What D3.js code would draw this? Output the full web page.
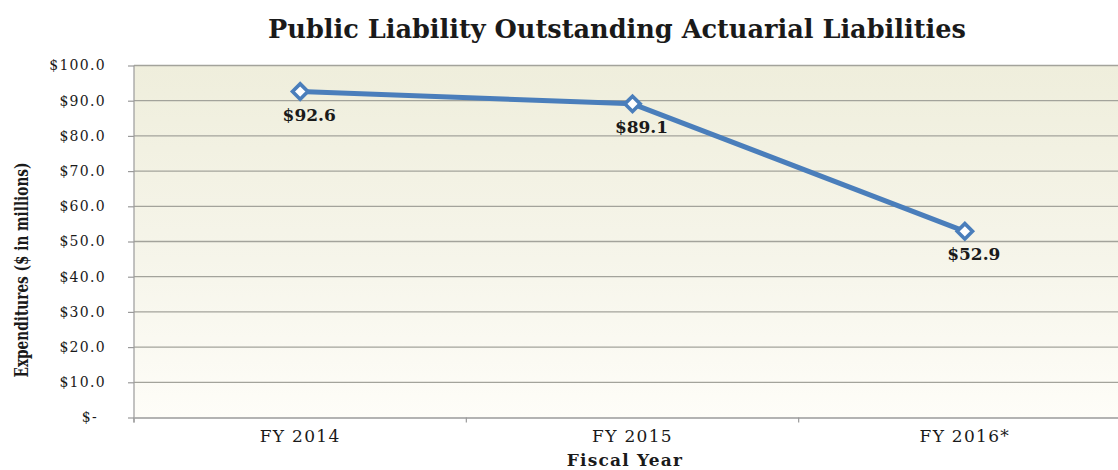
<!DOCTYPE html>
<html>
<head>
<meta charset="utf-8">
<script src="https://cdn.jsdelivr.net/npm/d3@7"></script>
<style>
  html, body { margin: 0; padding: 0; background: #ffffff; }
  svg { display: block; }
  text { font-family: "DejaVu Serif", "Liberation Serif", serif; fill: #1a1a1a; }
</style>
</head>
<body>
<svg id="chart" width="1118" height="470"></svg>
<script>
// Fiscal years and outstanding actuarial liabilities ($ millions)
const years = ["FY 2014", "FY 2015", "FY 2016*"];
const liabilities = [92.6, 89.1, 52.9];
const yTicks = [0, 10, 20, 30, 40, 50, 60, 70, 80, 90, 100];

const svg = d3.select("#chart");
const plot = { left: 134, top: 65.5, right: 1131, bottom: 417.5 };

const x = d3.scaleBand().domain(years).range([plot.left, plot.right]);
const y = d3.scaleLinear().domain([0, 100]).range([plot.bottom, plot.top]);

// Plot-area gradient fill
const defs = svg.append("defs");
const grad = defs.append("linearGradient").attr("id", "bg")
  .attr("x1", 0).attr("y1", 0).attr("x2", 0).attr("y2", 1);
grad.append("stop").attr("offset", "0%").attr("stop-color", "#efeedc");
grad.append("stop").attr("offset", "55%").attr("stop-color", "#f6f5ea");
grad.append("stop").attr("offset", "100%").attr("stop-color", "#fefdf8");

svg.append("rect")
  .attr("x", plot.left).attr("y", plot.top)
  .attr("width", plot.right - plot.left).attr("height", plot.bottom - plot.top)
  .attr("fill", "url(#bg)");

// Horizontal gridlines
svg.append("g")
  .selectAll("line").data(yTicks.filter(d => d > 0)).join("line")
  .attr("x1", plot.left).attr("x2", plot.right)
  .attr("y1", d => y(d)).attr("y2", d => y(d))
  .attr("stroke", "#a3a39b").attr("stroke-width", 1.3);

// Y axis
const fmt = d => d === 0 ? "$-" : "$" + d3.format(".1f")(d);
const yAxis = svg.append("g")
  .attr("transform", `translate(${plot.left},0)`)
  .call(d3.axisLeft(y).tickValues(yTicks).tickFormat(fmt).tickSize(6).tickPadding(22));
yAxis.select(".domain").attr("stroke", "#9a9a9a").attr("stroke-width", 1.2)
  .attr("d", `M0,${plot.top}V${plot.bottom + 5}`);
yAxis.selectAll(".tick line").attr("stroke", "#9a9a9a").attr("stroke-width", 1.2);
yAxis.selectAll(".tick text")
  .attr("font-size", 14).attr("letter-spacing", 1.3).attr("fill", "#2a2a2a")
  .attr("dx", d => d === 0 ? -8 : 0);

// X axis
const xAxis = svg.append("g")
  .attr("transform", `translate(0,${plot.bottom})`)
  .call(d3.axisBottom(x).tickSize(0).tickPadding(12));
xAxis.select(".domain").attr("stroke", "#9a9a9a").attr("stroke-width", 1.4);
xAxis.selectAll(".tick text")
  .attr("font-size", 17).attr("letter-spacing", 1.3).attr("fill", "#2a2a2a");
// Category boundary tick marks
svg.append("g").selectAll("line")
  .data(years).join("line")
  .attr("x1", d => x(d)).attr("x2", d => x(d))
  .attr("y1", plot.bottom).attr("y2", plot.bottom + 5)
  .attr("stroke", "#9a9a9a").attr("stroke-width", 1.2);

// Line series
const pts = years.map((yr, i) => ({ yr, v: liabilities[i] }));
const cx = d => x(d.yr) + x.bandwidth() / 2;
const line = d3.line().x(cx).y(d => y(d.v));
svg.append("path").datum(pts)
  .attr("d", line)
  .attr("fill", "none").attr("stroke", "#4a7ebb").attr("stroke-width", 5)
  .attr("stroke-linejoin", "round");

// Diamond markers
const diamond = d3.symbol().type(d3.symbolDiamond2).size(150);
svg.append("g").selectAll("path")
  .data(pts).join("path")
  .attr("d", diamond)
  .attr("transform", d => `translate(${cx(d)},${y(d.v)})`)
  .attr("fill", "#ffffff").attr("stroke", "#4a7ebb").attr("stroke-width", 3.6);

// Value labels
svg.append("g").selectAll("text")
  .data(pts).join("text")
  .attr("x", d => cx(d) + 9)
  .attr("y", d => y(d.v) + 29)
  .attr("text-anchor", "middle")
  .attr("font-size", 17).attr("font-weight", "bold")
  .text(d => "$" + d3.format(".1f")(d.v));

// Title
const title = svg.append("text")
  .attr("x", 617).attr("y", 38)
  .attr("text-anchor", "middle")
  .attr("font-size", 20).attr("font-weight", "bold")
  .text("Public Liability Outstanding Actuarial Liabilities");
const tw = title.node().getComputedTextLength();
title.attr("font-size", 20 * 698 / tw);

// Axis titles
svg.append("text")
  .attr("x", 625).attr("y", 466)
  .attr("text-anchor", "middle")
  .attr("font-size", 17).attr("letter-spacing", 1.2).attr("font-weight", "bold")
  .text("Fiscal Year");

svg.append("text")
  .attr("transform", "translate(28,270) rotate(-90)")
  .attr("text-anchor", "middle")
  .attr("font-family", "Liberation Serif, serif")
  .attr("font-size", 19).attr("font-weight", "bold")
  .attr("textLength", 215).attr("lengthAdjust", "spacingAndGlyphs")
  .text("Expenditures ($ in millions)");
</script>
</body>
</html>
